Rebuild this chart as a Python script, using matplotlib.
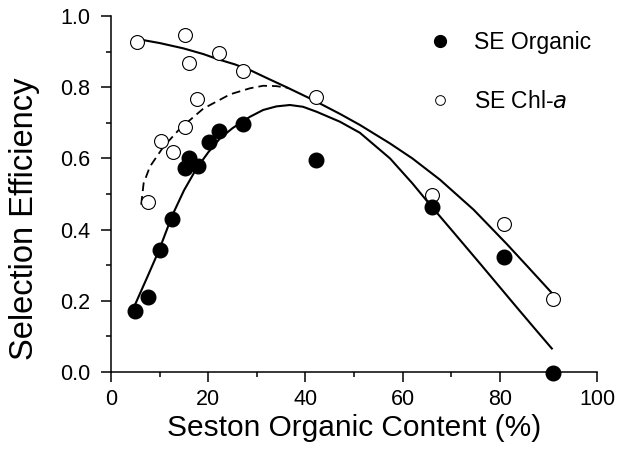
import matplotlib
matplotlib.use("Agg")
import matplotlib.pyplot as plt
from matplotlib.lines import Line2D

plt.rcParams['font.family'] = ['Liberation Sans', 'DejaVu Sans']

# measured points
org_x = [4.9, 7.6, 10.1, 12.6, 15.2, 16.1, 17.8, 20.1, 22.2, 27.1, 42.2, 66.0, 80.8, 91.0]
org_y = [0.171, 0.21, 0.343, 0.43, 0.573, 0.60, 0.579, 0.646, 0.677, 0.696, 0.596, 0.464, 0.323, -0.003]

chl_x = [5.3, 15.2, 16.1, 22.2, 27.1, 42.2, 17.7, 15.2, 10.2, 12.8, 7.7, 66.0, 80.8, 91.0]
chl_y = [0.927, 0.947, 0.867, 0.897, 0.846, 0.773, 0.767, 0.689, 0.65, 0.619, 0.477, 0.497, 0.415, 0.205]

# fitted curves
org_fit_x = [4.9, 7.5, 9.9, 12.6, 15.0, 17.6, 20.0, 22.4, 25.0, 28.6, 31.3, 34.0, 36.8,
             39.5, 42.3, 47.1, 51.2, 57.4, 62.0, 66.0, 70.0, 75.9, 83.4, 87.0, 90.7]
org_fit_y = [0.188, 0.268, 0.343, 0.44, 0.51, 0.572, 0.617, 0.656, 0.685, 0.717, 0.736, 0.746, 0.75,
             0.745, 0.731, 0.703, 0.672, 0.60, 0.53, 0.464, 0.40, 0.305, 0.183, 0.125, 0.066]

chl_fit_x = [5.5, 10.0, 14.9, 19.0, 22.1, 25.5, 28.6, 32.0, 36.1, 41.6, 47.1, 51.2, 57.4, 62.0,
             67.7, 74.6, 81.4, 86.0, 90.7]
chl_fit_y = [0.935, 0.924, 0.909, 0.893, 0.878, 0.864, 0.848, 0.826, 0.80, 0.764, 0.725, 0.694,
             0.642, 0.60, 0.54, 0.456, 0.36, 0.292, 0.222]

chl_low_x = [6.2, 6.7, 8.0, 10.8, 14.2, 19.0, 24.5, 28.6, 31.3, 34.0, 36.5]
chl_low_y = [0.47, 0.53, 0.577, 0.633, 0.684, 0.74, 0.78, 0.797, 0.804, 0.803, 0.798]

fig = plt.figure(figsize=(6.17, 4.53), dpi=100)
ax = fig.add_axes([0.18, 0.1788, 0.7876, 0.7859])

ax.plot(org_fit_x, org_fit_y, color='black', lw=1.5, clip_on=False)
ax.plot(chl_fit_x, chl_fit_y, color='black', lw=1.5, clip_on=False)
ax.plot(chl_low_x, chl_low_y, color='black', lw=1.3, dashes=(4.8, 2.8))

ax.plot(chl_x, chl_y, 'o', ms=10, mfc='white', mec='black', mew=0.8, clip_on=False, zorder=3)
ax.plot(org_x, org_y, 'o', ms=10.5, mfc='black', mec='black', clip_on=False, zorder=4)

ax.set_xlim(0, 100)
ax.set_ylim(0, 1.0)
ax.set_xticks(range(0, 101, 20))
ax.set_xticks(range(10, 100, 20), minor=True)
ax.set_yticks([0.0, 0.2, 0.4, 0.6, 0.8, 1.0])
ax.set_yticks([0.1, 0.3, 0.5, 0.7, 0.9], minor=True)
ax.set_yticklabels(['0.0', '0.2', '0.4', '0.6', '0.8', '1.0'])

for s in ['top', 'right']:
    ax.spines[s].set_visible(False)
for s in ['left', 'bottom']:
    ax.spines[s].set_linewidth(1.1)
ax.tick_params(which='major', length=7, width=1.1, labelsize=15.5, direction='out', pad=5)
ax.tick_params(axis='y', which='major', pad=8)
ax.tick_params(which='minor', length=3.5, width=1.1, direction='out')

ax.set_xlabel('Seston Organic Content (%)', fontsize=21.5, labelpad=3)
ax.set_ylabel('Selection Efficiency', fontsize=23.5)
ax.yaxis.set_label_coords(-0.146, 0.43)

handles = [
    Line2D([], [], ls='none', marker='o', ms=8.5, mfc='black', mec='black'),
    Line2D([], [], ls='none', marker='o', ms=7, mfc='white', mec='black', mew=0.7),
]
ax.legend(handles, ['SE Organic', r'SE Chl-$\it{a}$'], loc='upper left',
          bbox_to_anchor=(0.629, 0.957), frameon=False, fontsize=16.5,
          labelspacing=1.55, handlelength=2.0, handletextpad=0.5,
          borderpad=0, borderaxespad=0)

fig.savefig('out.png', dpi=100)
